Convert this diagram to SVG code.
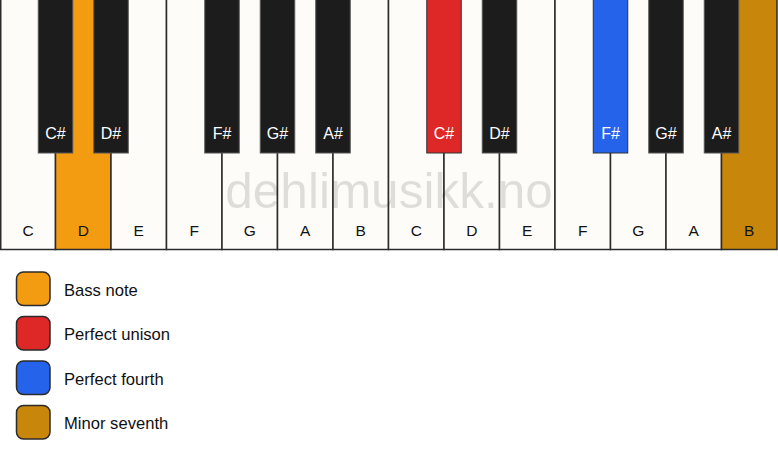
<svg xmlns="http://www.w3.org/2000/svg" width="778" height="461" viewBox="0 0 778 461">
<style>
.w{fill:#fdfcf9;stroke:#2b2b2b;stroke-width:1.5}
.b{fill:#1c1c1c;stroke:#555;stroke-width:1}
.wl{font-family:"Liberation Sans",Arial,sans-serif;font-size:15.5px;fill:#111;text-anchor:middle}
.bl{font-family:"Liberation Sans",Arial,sans-serif;font-size:16px;fill:#fff;text-anchor:middle}
.lg{stroke:#2b2b2b;stroke-width:1.5}
.lt{font-family:"Liberation Sans",Arial,sans-serif;font-size:16.6px;fill:#111}
.wm{font-family:"Liberation Sans",Arial,sans-serif;font-size:49.5px;fill:#000;fill-opacity:0.12;text-anchor:middle}
</style>
<rect width="778" height="461" fill="#ffffff"/>
<g id="white-keys">
<rect class="w" x="0.75" y="-1" width="54.75" height="250.5"/>
<rect class="w" x="55.5" y="-1" width="55.5" height="250.5" style="fill:#f39c12"/>
<rect class="w" x="111" y="-1" width="55.5" height="250.5"/>
<rect class="w" x="166.5" y="-1" width="55.5" height="250.5"/>
<rect class="w" x="222" y="-1" width="55.5" height="250.5"/>
<rect class="w" x="277.5" y="-1" width="55.5" height="250.5"/>
<rect class="w" x="333" y="-1" width="55.5" height="250.5"/>
<rect class="w" x="388.5" y="-1" width="55.5" height="250.5"/>
<rect class="w" x="444" y="-1" width="55.5" height="250.5"/>
<rect class="w" x="499.5" y="-1" width="55.5" height="250.5"/>
<rect class="w" x="555" y="-1" width="55.5" height="250.5"/>
<rect class="w" x="610.5" y="-1" width="55.5" height="250.5"/>
<rect class="w" x="666" y="-1" width="55.5" height="250.5"/>
<rect class="w" x="721.5" y="-1" width="55.5" height="250.5" style="fill:#c8860a"/>
</g>
<text class="wm" x="389" y="208">dehlimusikk.no</text>
<g id="white-labels">
<text class="wl" x="28" y="236">C</text>
<text class="wl" x="83.25" y="236">D</text>
<text class="wl" x="138.75" y="236">E</text>
<text class="wl" x="194.25" y="236">F</text>
<text class="wl" x="249.75" y="236">G</text>
<text class="wl" x="305.25" y="236">A</text>
<text class="wl" x="360.75" y="236">B</text>
<text class="wl" x="416.25" y="236">C</text>
<text class="wl" x="471.75" y="236">D</text>
<text class="wl" x="527.25" y="236">E</text>
<text class="wl" x="582.75" y="236">F</text>
<text class="wl" x="638.25" y="236">G</text>
<text class="wl" x="693.75" y="236">A</text>
<text class="wl" x="749.25" y="236">B</text>
</g>
<g id="black-keys">
<rect class="b" x="38.25" y="-1" width="34.5" height="154"/>
<rect class="b" x="93.75" y="-1" width="34.5" height="154"/>
<rect class="b" x="204.75" y="-1" width="34.5" height="154"/>
<rect class="b" x="260.25" y="-1" width="34.5" height="154"/>
<rect class="b" x="315.75" y="-1" width="34.5" height="154"/>
<rect class="b" x="426.75" y="-1" width="34.5" height="154" style="fill:#de2828;stroke:#333"/>
<rect class="b" x="482.25" y="-1" width="34.5" height="154"/>
<rect class="b" x="593.25" y="-1" width="34.5" height="154" style="fill:#2563eb;stroke:#333"/>
<rect class="b" x="648.75" y="-1" width="34.5" height="154"/>
<rect class="b" x="704.25" y="-1" width="34.5" height="154"/>
</g>
<g id="black-labels">
<text class="bl" x="55.5" y="139">C#</text>
<text class="bl" x="111" y="139">D#</text>
<text class="bl" x="222" y="139">F#</text>
<text class="bl" x="277.5" y="139">G#</text>
<text class="bl" x="333" y="139">A#</text>
<text class="bl" x="444" y="139">C#</text>
<text class="bl" x="499.5" y="139">D#</text>
<text class="bl" x="610.5" y="139">F#</text>
<text class="bl" x="666" y="139">G#</text>
<text class="bl" x="721.5" y="139">A#</text>
</g>
<g id="legend-bass">
<rect class="lg" x="16.5" y="272" width="33.5" height="33.5" rx="7" fill="#f39c12"/>
<text class="lt" x="64" y="295.5">Bass note</text>
</g>
<g id="legend-unison">
<rect class="lg" x="16.5" y="316.5" width="33.5" height="33.5" rx="7" fill="#de2828"/>
<text class="lt" x="64" y="340">Perfect unison</text>
</g>
<g id="legend-fourth">
<rect class="lg" x="16.5" y="361" width="33.5" height="33.5" rx="7" fill="#2563eb"/>
<text class="lt" x="64" y="384.5">Perfect fourth</text>
</g>
<g id="legend-seventh">
<rect class="lg" x="16.5" y="405.5" width="33.5" height="33.5" rx="7" fill="#c8860a"/>
<text class="lt" x="64" y="429">Minor seventh</text>
</g>
</svg>
